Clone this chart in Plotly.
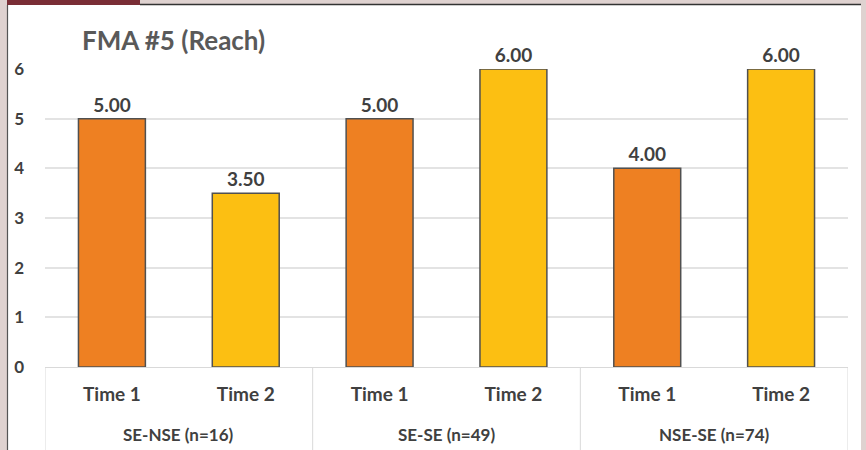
import plotly.graph_objects as go

group_labels = ["SE-NSE (n=16)", "SE-SE (n=49)", "NSE-SE (n=74)"]
times = ["Time 1", "Time 2", "Time 1", "Time 2", "Time 1", "Time 2"]
values = [5.00, 3.50, 5.00, 6.00, 4.00, 6.00]
bar_colors = ["#EE8022", "#FCBF12", "#EE8022", "#FCBF12", "#EE8022", "#FCBF12"]
y_ticks = [0, 1, 2, 3, 4, 5, 6]

W, H = 866, 450
ML, MR, MT, MB = 45, 18, 69, 83
pw, ph = W - ML - MR, H - MT - MB

def px(x):
    return (x - ML) / pw

def py(y):
    return (H - MB - y) / ph

xpos = list(range(len(values)))

fig = go.Figure()
fig.add_trace(go.Bar(
    x=xpos, y=values,
    marker=dict(color=bar_colors, line=dict(color="#505050", width=1.5)),
    width=0.5,
    text=[f"{v:.2f}" for v in values], textposition="outside",
    textfont=dict(family="Lato", size=19, color="#404040", weight="bold"),
    cliponaxis=False,
    hoverinfo="skip",
))

frame = "#DFD2D0"
shapes = [
    dict(type="rect", xref="paper", yref="paper", x0=px(0), x1=px(8), y0=py(H), y1=py(0),
         fillcolor=frame, line=dict(width=0), layer="below"),
    dict(type="rect", xref="paper", yref="paper", x0=px(861), x1=px(W), y0=py(H), y1=py(0),
         fillcolor=frame, line=dict(width=0), layer="below"),
    dict(type="rect", xref="paper", yref="paper", x0=px(0), x1=px(W), y0=py(4), y1=py(0),
         fillcolor=frame, line=dict(width=0), layer="below"),
    dict(type="rect", xref="paper", yref="paper", x0=px(7), x1=px(140), y0=py(5), y1=py(0),
         fillcolor="#7A2E36", line=dict(width=0), layer="below"),
    dict(type="line", xref="paper", yref="paper", x0=px(140), x1=px(861), y0=py(4.5), y1=py(4.5),
         line=dict(color="#333333", width=1.5)),
    dict(type="line", xref="paper", yref="paper", x0=px(7.5), x1=px(7.5), y0=py(H), y1=py(5),
         line=dict(color="#555555", width=1.2)),
]

n_groups = len(group_labels)
for g in range(n_groups + 1):
    xd = 2 * g - 0.5
    shapes.append(dict(type="line", xref="x", yref="paper", x0=xd, x1=xd, y0=0, y1=py(H),
                       line=dict(color="#D9D9D9", width=1)))

annotations = []
for g, lab in enumerate(group_labels):
    annotations.append(dict(
        x=2 * g + 0.5, xref="x", y=py(435), yref="paper", text=lab, showarrow=False,
        xanchor="center", yanchor="middle",
        font=dict(family="Lato", size=17, color="#404040", weight="bold"),
    ))

fig.update_layout(
    width=W, height=H,
    margin=dict(l=ML, r=MR, t=MT, b=MB),
    paper_bgcolor="white", plot_bgcolor="white",
    showlegend=False,
    title=dict(text="FMA #5 (Reach)", xref="container", x=82 / W, xanchor="left",
               yref="container", y=1 - 41 / H, yanchor="middle",
               font=dict(family="Lato", size=26, color="#595959", weight="bold")),
    xaxis=dict(
        range=[-0.5, len(values) - 0.5],
        tickvals=xpos, ticktext=times,
        showline=True, linecolor="#D9D9D9", linewidth=1,
        showgrid=False, zeroline=False,
        tickfont=dict(family="Lato", size=19, color="#404040", weight="bold"),
        ticks="", ticklabelstandoff=10,
    ),
    yaxis=dict(
        range=[0, 6], tickvals=y_ticks,
        showgrid=True, gridcolor="#E3E3E3", gridwidth=1.5,
        zeroline=False, showline=False,
        tickfont=dict(family="Lato", size=17, color="#404040", weight="bold"),
        ticklabelstandoff=20,
    ),
    shapes=shapes,
    annotations=annotations,
    font=dict(family="Lato"),
)

fig.write_html("out.html", config={"displayModeBar": False},
               post_script="document.body.style.margin='0px';")
